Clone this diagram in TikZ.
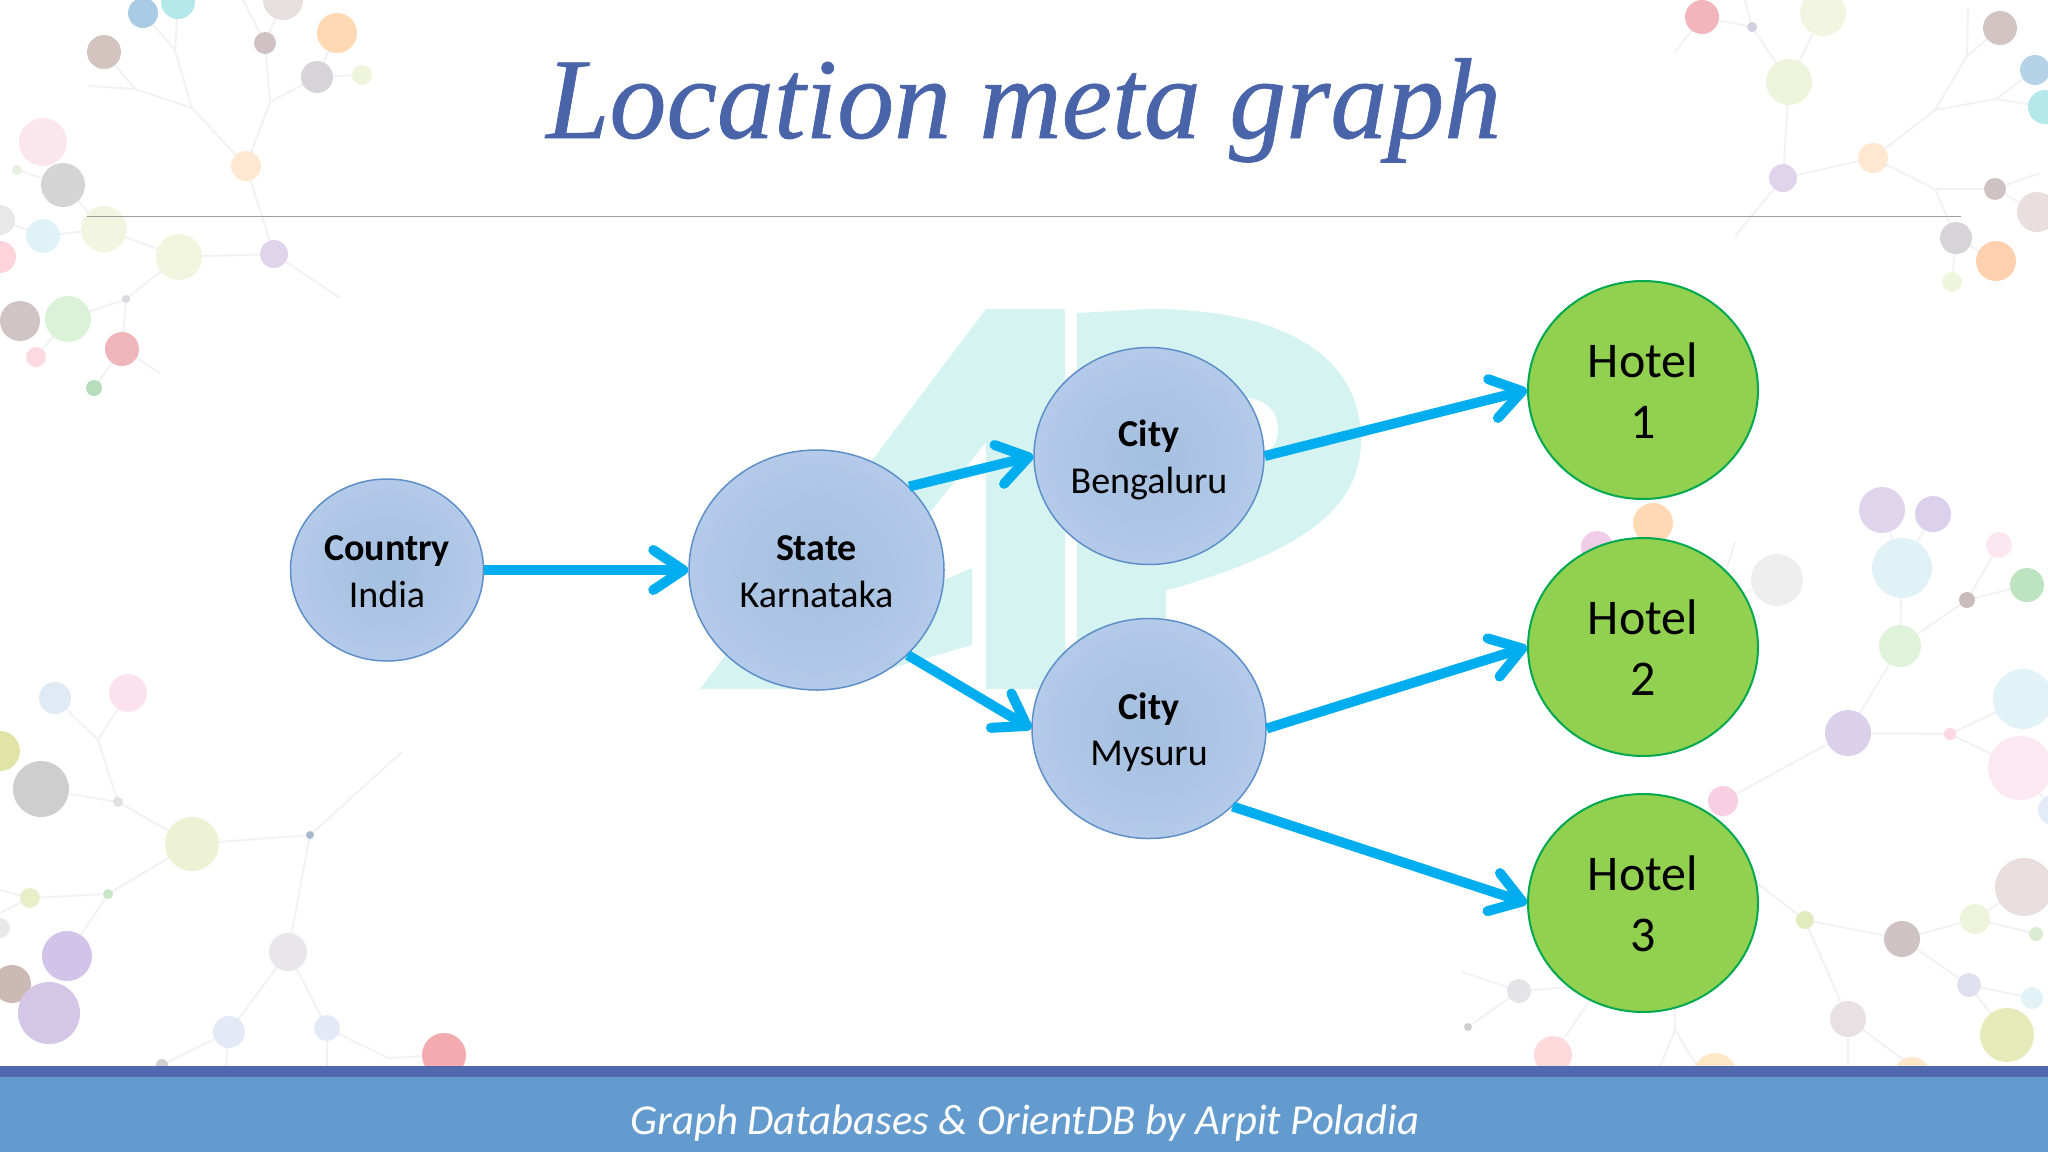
\documentclass[tikz,border=0pt]{standalone}
\usepackage{fontspec}
\setmainfont{Carlito}
\newfontfamily\titlefont{Liberation Serif}[ItalicFeatures={FakeBold=0.6,FakeStretch=0.99}]
\usetikzlibrary{shapes.geometric,arrows.meta}
\definecolor{titleblue}{HTML}{4A64AA}
\definecolor{arrowblue}{HTML}{00AEEF}
\definecolor{wmark}{HTML}{D5F3F1}
\definecolor{barDark}{HTML}{4F68AE}
\definecolor{barLight}{HTML}{639BCF}
\definecolor{nodeEdge}{HTML}{5F8FC8}
\definecolor{nodeIn}{HTML}{A5BFE0}
\definecolor{nodeOut}{HTML}{B3CAE9}
\definecolor{hotelFill}{HTML}{92D050}
\definecolor{hotelEdge}{HTML}{00A84F}
\definecolor{webline}{HTML}{F2F1F4}
\newcommand{\topA}{\rule{0pt}{36pt}}
\newcommand{\botA}{\rule[-8pt]{0pt}{8pt}}
\newcommand{\topB}{\rule{0pt}{43pt}}
\newcommand{\botB}{\rule[-8pt]{0pt}{8pt}}
\tikzset{
  bluenode/.style={ellipse,draw=nodeEdge,line width=1.5pt,inner sep=0pt,shading=radial,inner color=nodeIn,outer color=nodeOut,align=center,font=\fontsize{38}{46.5}\selectfont},
  hotelnode/.style={ellipse,draw=hotelEdge,line width=2pt,fill=hotelFill,inner sep=0pt,minimum width=230pt,minimum height=218pt,align=center,font=\fontsize{50}{61}\selectfont},
  link/.style={draw=arrowblue,line width=10pt,-{Straight Barb[length=30pt,width=40pt,line width=10pt,round]}},
  webl/.style={draw=webline,line width=2pt}
}
\begin{document}
\begin{tikzpicture}[x=1pt,y=-1pt]
\useasboundingbox (0,0) rectangle (2048,1152);
\clip (0,0) rectangle (2048,1152);
% web lines of the background
\foreach \ax/\ay/\bx/\by in {
 143/13/175/50,178/2/175/50,175/50/192/108,104/52/135/89,88/86/135/89,135/89/192/108,192/108/246/166,246/166/270/102,270/102/265/43,243/0/265/43,283/0/265/43,270/102/317/77,317/77/337/33,317/77/362/75,246/166/274/254,274/254/179/257,274/254/340/298,179/257/104/229,104/229/43/236,43/236/0/220,63/185/104/229,17/170/63/185,179/257/126/299,126/299/68/319,126/299/122/349,122/349/160/373,122/349/94/388,68/319/36/357,
 1675/52/1702/17,1702/17/1752/27,1745/0/1752/27,1752/27/1789/82,1789/82/1823/13,1789/82/1783/178,1783/178/1873/158,1783/178/1735/236,1873/158/1935/110,1935/110/1967/56,1967/56/1968/8,1967/56/2000/28,1935/110/1996/99,1996/99/2035/70,1996/99/2045/107,1873/158/1935/189,1935/189/1995/189,1995/189/2040/173,1995/189/2037/212,1935/189/1956/238,1956/238/1996/261,1956/238/1952/282,
 55/698/98/740,128/693/98/740,98/740/118/802,41/789/118/802,118/802/192/844,192/844/310/835,310/835/402/752,310/835/288/952,288/952/229/1032,288/952/327/1028,229/1032/162/1065,229/1032/226/1066,327/1028/327/1066,327/1028/388/1058,388/1058/444/1055,192/844/108/894,108/894/67/956,108/894/30/898,30/898/0/890,30/898/0/913,
 1882/510/1902/568,1933/514/1902/568,1902/568/1900/646,1900/646/1967/600,1967/600/1999/545,1967/600/2027/585,1900/646/1848/733,1848/733/1723/801,1848/733/1950/734,1950/734/2023/699,1950/734/2020/768,2020/768/2053/810,1777/580/1725/600,1735/541/1725/575,
 1805/920/1902/939,1805/920/1848/1019,1805/920/1740/870,1902/939/1975/919,1975/919/2036/934,1975/919/2024/887,1902/939/1969/985,1969/985/2032/998,1969/985/2007/1035,1848/1019/1848/1066,1848/1019/1912/1066,
 1519/991/1462/972,1519/991/1468/1027,1519/991/1570/987,1553/1055/1590/1000,1675/1030/1660/1066,1675/1030/1697/1066,1675/1030/1675/1000
}{\draw[webl] (\ax,\ay) -- (\bx,\by);}
% dots of the background
\foreach \dx/\dy/\dr/\dc in {
 143/13/15/A9CBE3,178/2/17/B5E8EA,104/52/17/D3C4C0,265/43/11/D0C2C4,283/0/20/E6DEDF,337/33/20/FFD9B3,317/77/16/D6D4D8,362/75/10/EFF4DC,246/166/15/FFE8D2,43/142/24/FCE6EE,63/185/22/D5D4D5,17/170/5/E5F0DE,0/220/15/E8E8E8,43/236/17/DFF2F8,104/229/23/F2F5E0,0/257/16/FFD3DC,179/257/23/F2F5DE,274/254/14/DFD4EC,126/299/4/DADADE,20/321/20/D1C4C4,68/319/23/DAF2D8,36/357/10/FDDAE2,122/349/17/EEB5BA,94/388/8/B7DDBB,
 1702/17/17/F2B5BC,1752/27/5/CFD0E0,1823/13/23/F2F5E0,1789/82/23/EEF3DC,1783/178/14/DFD4EC,1873/158/15/FFE8D2,2000/28/17/D3C4C4,2035/70/15/B5D2E6,2045/107/17/B5E8EA,1995/189/11/CFC2C4,2037/212/20/E8DEE0,1956/238/16/D6D4D8,1996/261/20/FFD0AE,1952/282/10/EFF4DC,
 55/698/16/DFEAF5,128/693/19/FCE2EE,0/751/20/E0E4A6,41/789/28/CFCECE,118/802/5/E0E0E0,192/844/27/EDF2D6,310/835/4/A9B9CC,30/898/10/E8EFC8,108/894/5/C8E6C8,67/956/25/D1C4E8,12/984/19/CDB9B4,49/1013/31/D4C6E6,0/928/10/E8E8E8,288/952/19/E8E6EA,229/1032/16/E3EAF6,327/1028/13/E3EAF6,444/1055/22/F2ABAE,162/1065/6/D0D0D0,
 1882/510/23/DFD4EC,1933/514/18/DCD1EC,1999/545/13/FCE6F0,1902/568/30/E0F2F6,2027/585/17/BEE3C0,1967/600/8/C8BCBC,1900/646/21/DFF2DA,1848/733/23/DAD0EA,1950/734/6/FCD8E4,2023/699/30/E2F3F7,2020/768/32/FCE8F0,1723/801/15/F8CEE2,2053/810/15/E3EAF8,1777/580/26/EEEEEE,2024/887/29/E9DEDE,1805/920/9/E2EBBE,1902/939/18/CFC2C2,1975/919/15/EEF3DC,2036/934/7/D9EBD0,1969/985/12/E0E0EE,2032/998/11/E2F3F8,2007/1035/27/E6EAB8,1848/1019/18/E8E0E2,1912/1075/18/FFE8C8,
 1653/523/20/FFD9B3,1597/547/16/F0CDE6,1519/991/12/E3E3E8,1468/1027/4/CFCFCF,1553/1055/19/FFD9DC,1715/1075/22/FFE8C8
}{\definecolor{dotc}{HTML}{\dc}\fill[dotc] (\dx,\dy) circle (\dr);}
% watermark
\fill[wmark] (700,689) -- (986,309) -- (1065,309) -- (1065,689) -- (986,689) -- (986,442) -- (840,625) -- (972,568) -- (972,645) -- (820,689) -- cycle;
\fill[wmark] (1077,313) -- (1150,309) .. controls (1290,309) and (1361,360) .. (1361,440) .. controls (1361,510) and (1300,550) .. (1179,587) -- (1166,590) -- (1166,640) -- (1077,640) -- cycle;
\fill[white] (1210,400) .. controls (1250,392) and (1278,400) .. (1278,430) .. controls (1278,455) and (1250,470) .. (1210,470) -- cycle;
% title, rule, footer
\node[anchor=base west,inner sep=0pt,text=titleblue,font=\fontsize{115}{120}\titlefont\itshape] (title) at (546,138) {Location meta graph};
\draw[draw=black!38,line width=1.5pt] (87,216.5) coordinate (ruleL) -- (1961,216.5) coordinate (ruleR);
\fill[barLight] (0,1077) rectangle (2048,1152);
\fill[barDark] (0,1066) rectangle (2048,1077);
\node[anchor=base,inner sep=0pt,text=white,font=\fontsize{42.7}{46}\selectfont\itshape] (footer) at (1025,1134) {Graph Databases \& OrientDB by Arpit Poladia};
% graph
\node[bluenode,minimum width=193pt,minimum height=182pt] (country) at (387,570) {\topA\textbf{Country}\\India\botA};
\node[bluenode,minimum width=255pt,minimum height=240pt] (state) at (816.5,570) {\topA\textbf{State}\\Karnataka\botA};
\node[bluenode,minimum width=230pt,minimum height=217pt] (cityb) at (1149,456) {\topA\textbf{City}\\Bengaluru\botA};
\node[bluenode,minimum width=234pt,minimum height=220pt] (citym) at (1149,728.5) {\topA\textbf{City}\\Mysuru\botA};
\node[hotelnode] (hotela) at (1643,390) {\topB Hotel\\1\botB};
\node[hotelnode] (hotelb) at (1643,647) {\topB Hotel\\2\botB};
\node[hotelnode] (hotelc) at (1643,903) {\topB Hotel\\3\botB};
\draw[link] (country.0) -- (state.180);
\draw[link] (state.42) -- (cityb.180);
\draw[link] (state.-43) -- (citym.180);
\draw[link] (cityb.0) -- (hotela.180);
\draw[link] (citym.0) -- (hotelb.180);
\draw[link] (citym.-43) -- (hotelc.180);
\end{tikzpicture}
\end{document}
